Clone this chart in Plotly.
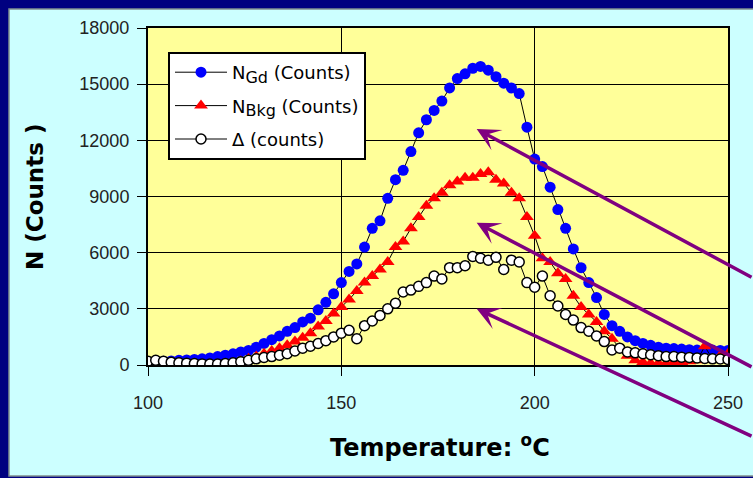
import plotly.graph_objects as go

# Temperature (°C)
temperature = list(range(100, 251, 2))

# N_Gd (Counts)
n_gd = [150, 180, 200, 220, 250, 270, 300, 330, 380, 450,
        520, 600, 700, 780, 950, 1150, 1350, 1550, 1800, 2000,
        2300, 2500, 2950, 3350, 3800, 4400, 5000, 5400, 6300, 7300,
        7700, 8900, 9900, 10400, 11400, 12400, 13100, 13600, 14100, 14800,
        15300, 15550, 15850, 15950, 15750, 15400, 15050, 14800, 14500, 12700,
        11000, 10600, 9500, 8300, 7300, 6200, 5200, 4400, 3600, 2700,
        2100, 1800, 1500, 1300, 1150, 1050, 950, 900, 880, 850,
        820, 800, 800, 800, 780, 780]

# N_Bkg (Counts)
n_bkg = [-150, -150, -100, -100, -100, -80, -50, -50, 0, 0,
         50, 100, 200, 330, 450, 600, 750, 900, 1050, 1250,
         1450, 1700, 2050, 2350, 2750, 3100, 3500, 3950, 4400, 4750,
         5100, 5500, 6300, 6600, 7300, 7900, 8500, 8900, 9200, 9600,
         9800, 10000, 10000, 10200, 10300, 9900, 9700, 9200, 8900, 7900,
         6900, 5700, 5500, 4900, 4600, 3700, 3100, 2700, 2300, 1800,
         1400, 900, 500, 250, 150, 100, 100, 100, 150, 150,
         200, 250, 1000, 300, 500, 600]

# Delta (counts)
delta = [200, 250, 200, 150, 120, 100, 80, 60, 50, 50,
         80, 120, 180, 250, 330, 400, 450, 520, 600, 750,
         900, 1000, 1150, 1300, 1500, 1700, 1850, 1400, 2100, 2350,
         2650, 3000, 3300, 3900, 4000, 4200, 4400, 4750, 4600, 5200,
         5200, 5300, 5800, 5700, 5600, 5750, 5100, 5600, 5500, 4400,
         4150, 4750, 3700, 3150, 2700, 2400, 2000, 1800, 1550, 1250,
         800, 900, 700, 650, 600, 550, 500, 450, 450, 420,
         400, 380, 350, 330, 320, 300]

x_ticks = [100, 150, 200, 250]
y_ticks = [0, 3000, 6000, 9000, 12000, 15000, 18000]

# arrow targets (data coords)
arrow_x = [185, 185, 185]
arrow_y = [12600, 7600, 3000]

W, H = 753, 478
L, R, T, B = 148, 25, 28, 113
pw, ph = W - L - R, H - T - B

def px_to_paper_x(px):
    return (px - L) / pw

def px_to_paper_y(py):
    return (H - B - py) / ph

FONT = "Liberation Sans, Arial"
WIDE = "DejaVu Sans"

fig = go.Figure()
fig.add_trace(go.Scatter(
    x=temperature, y=n_gd, mode="lines+markers",
    name="N<sub><span style='font-size:16px'>Gd</span></sub> (Counts)",
    line=dict(color="black", width=1),
    marker=dict(symbol="circle", size=11, color="#0000FF", line=dict(width=0)),
    legendgroup="a"))
fig.add_trace(go.Scatter(
    x=temperature, y=n_bkg, mode="lines+markers",
    name="N<sub><span style='font-size:16px'>Bkg</span></sub> (Counts)",
    line=dict(color="black", width=1),
    marker=dict(symbol="triangle-up", size=12, color="#FF0000", line=dict(width=0)),
    legendgroup="b"))
fig.add_trace(go.Scatter(
    x=temperature, y=delta, mode="lines+markers", name="Δ (counts)",
    line=dict(color="black", width=1),
    marker=dict(symbol="circle", size=10, color="white", line=dict(width=1.5, color="black")),
    legendgroup="c"))

shapes = [
    dict(type="rect", xref="paper", yref="paper", layer="below",
         x0=px_to_paper_x(9), x1=px_to_paper_x(770),
         y0=px_to_paper_y(476), y1=px_to_paper_y(9),
         fillcolor="#CCFFFF", line=dict(color="#7f8f8f", width=1.5)),
    dict(type="rect", xref="paper", yref="paper", layer="below",
         x0=0, x1=1, y0=0, y1=1, fillcolor="#FFFF99", line=dict(width=0)),
]

annotations = [
    dict(text="<b>N (Counts )</b>", xref="paper", yref="paper",
         x=px_to_paper_x(35), y=px_to_paper_y(197), textangle=-90,
         showarrow=False, font=dict(family=WIDE, size=23, color="black"),
         xanchor="center", yanchor="middle"),
    dict(text="<b>Temperature: <sup>o</sup>C</b>", xref="paper", yref="paper",
         x=px_to_paper_x(440), y=px_to_paper_y(446),
         showarrow=False, font=dict(family=WIDE, size=24, color="black"),
         xanchor="center", yanchor="middle"),
]

tails = [(323, 149), (323, 145), (323, 128)]
for ax_, ay_, (dx, dy) in zip(arrow_x, arrow_y, tails):
    annotations.append(dict(
        x=ax_, y=ay_, xref="x", yref="y", ax=dx, ay=dy, text="",
        showarrow=True, arrowhead=3, arrowsize=1.1, arrowwidth=3.5,
        arrowcolor="#800080", standoff=0))

fig.update_layout(
    width=W, height=H,
    margin=dict(l=L, r=R, t=T, b=B, autoexpand=False),
    paper_bgcolor="#000080",
    plot_bgcolor="rgba(0,0,0,0)",
    shapes=shapes,
    annotations=annotations,
    showlegend=True,
    legend=dict(
        x=px_to_paper_x(168), y=px_to_paper_y(52), xanchor="left", yanchor="top",
        bgcolor="white", bordercolor="black", borderwidth=2,
        font=dict(family=WIDE, size=18, color="black"),
        itemwidth=52, tracegroupgap=7),
    xaxis=dict(
        range=[100, 250], tickvals=x_ticks, ticktext=[str(v) for v in x_ticks],
        showgrid=True, gridcolor="black", gridwidth=1,
        showline=True, linecolor="black", linewidth=2, mirror=True,
        ticks="outside", ticklen=9, tickcolor="black", ticklabelstandoff=11,
        tickfont=dict(family=FONT, size=18, color="#222"),
        zeroline=False),
    yaxis=dict(
        range=[0, 18000], tickvals=y_ticks, ticktext=[str(v) for v in y_ticks],
        showgrid=True, gridcolor="black", gridwidth=1,
        showline=True, linecolor="black", linewidth=2, mirror=True,
        ticks="outside", ticklen=9, tickcolor="black", ticklabelstandoff=4,
        tickfont=dict(family=FONT, size=18, color="#222"),
        zeroline=False),
)

fig.write_html(
    "out.html",
    config={"displayModeBar": False},
    post_script="document.body.style.margin='0';document.body.style.background='#000080';",
)
